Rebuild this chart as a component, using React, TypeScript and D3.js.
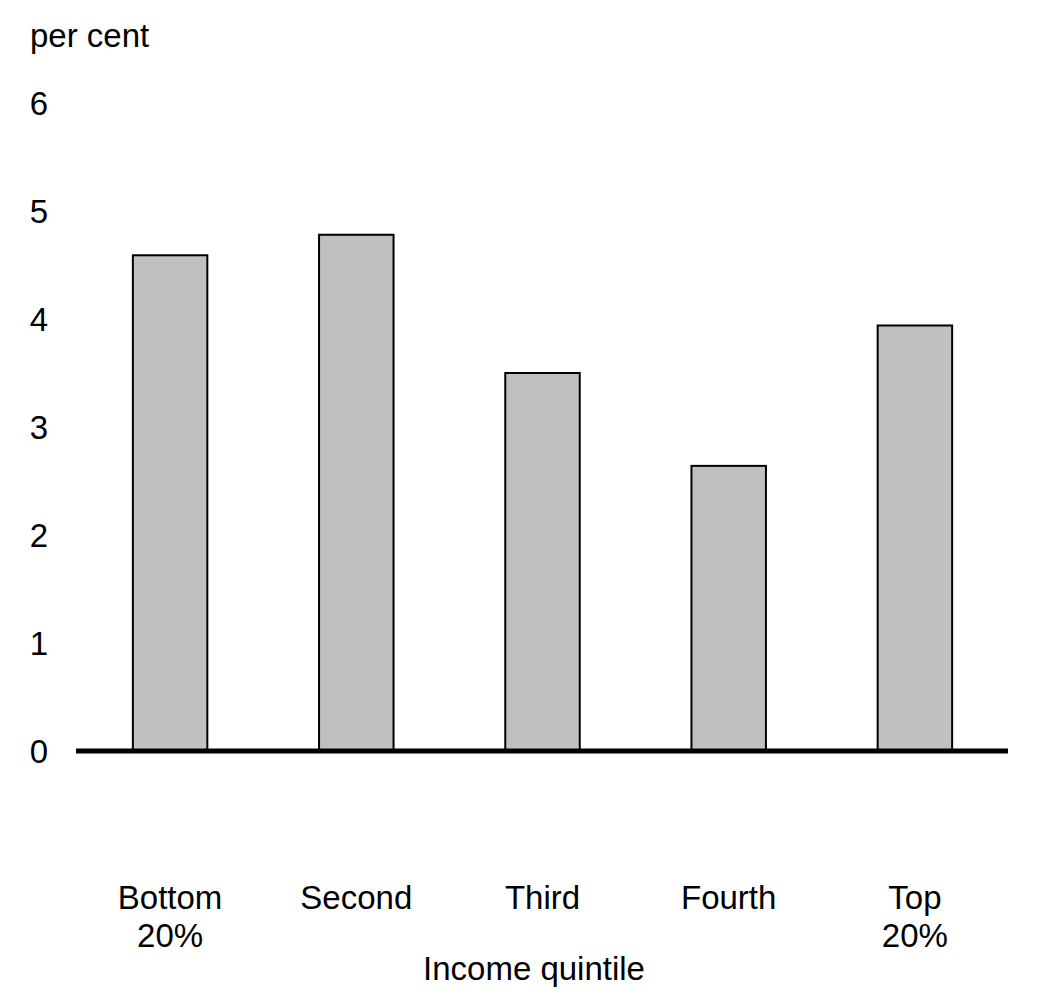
import * as d3 from "d3"

const categories = [["Bottom", "20%"], ["Second"], ["Third"], ["Fourth"], ["Top", "20%"]]
const values = [4.59, 4.78, 3.5, 2.64, 3.94]
const yTicks = [0, 1, 2, 3, 4, 5, 6]

const W = 1038
const H = 999
const FONT = "'Liberation Sans', Arial, sans-serif"
const FS = 33

export default function App() {
  const x = d3
    .scaleBand<number>()
    .domain(d3.range(categories.length))
    .range([77, 1008])
    .paddingInner(0.6)
    .paddingOuter(0.3)
  const y = d3.scaleLinear().domain([0, 6]).range([751, 103])

  return (
    <svg
      width={W}
      height={H}
      style={{ position: "absolute", left: 0, top: 0, background: "#fff" }}
      fontFamily={FONT}
    >
      <text x={30} y={47} fontSize={FS}>per cent</text>

      {yTicks.map((t) => (
        <text key={t} x={39} y={y(t)} dy="0.35em" fontSize={FS} textAnchor="middle">
          {t}
        </text>
      ))}

      {values.map((v, i) => (
        <rect
          key={i}
          x={x(i)!}
          y={y(v)}
          width={x.bandwidth()}
          height={y(0) - y(v)}
          fill="#c0c0c0"
          stroke="#000"
          strokeWidth={2}
        />
      ))}

      <line x1={76} x2={1008} y1={y(0)} y2={y(0)} stroke="#000" strokeWidth={5} />

      {categories.map((lines, i) => (
        <text
          key={i}
          x={x(i)! + x.bandwidth() / 2}
          y={909}
          fontSize={FS}
          textAnchor="middle"
        >
          {lines.map((l, j) => (
            <tspan key={j} x={x(i)! + x.bandwidth() / 2} dy={j === 0 ? 0 : 38}>
              {l}
            </tspan>
          ))}
        </text>
      ))}

      <text x={534} y={980} fontSize={FS} textAnchor="middle">Income quintile</text>
    </svg>
  )
}
